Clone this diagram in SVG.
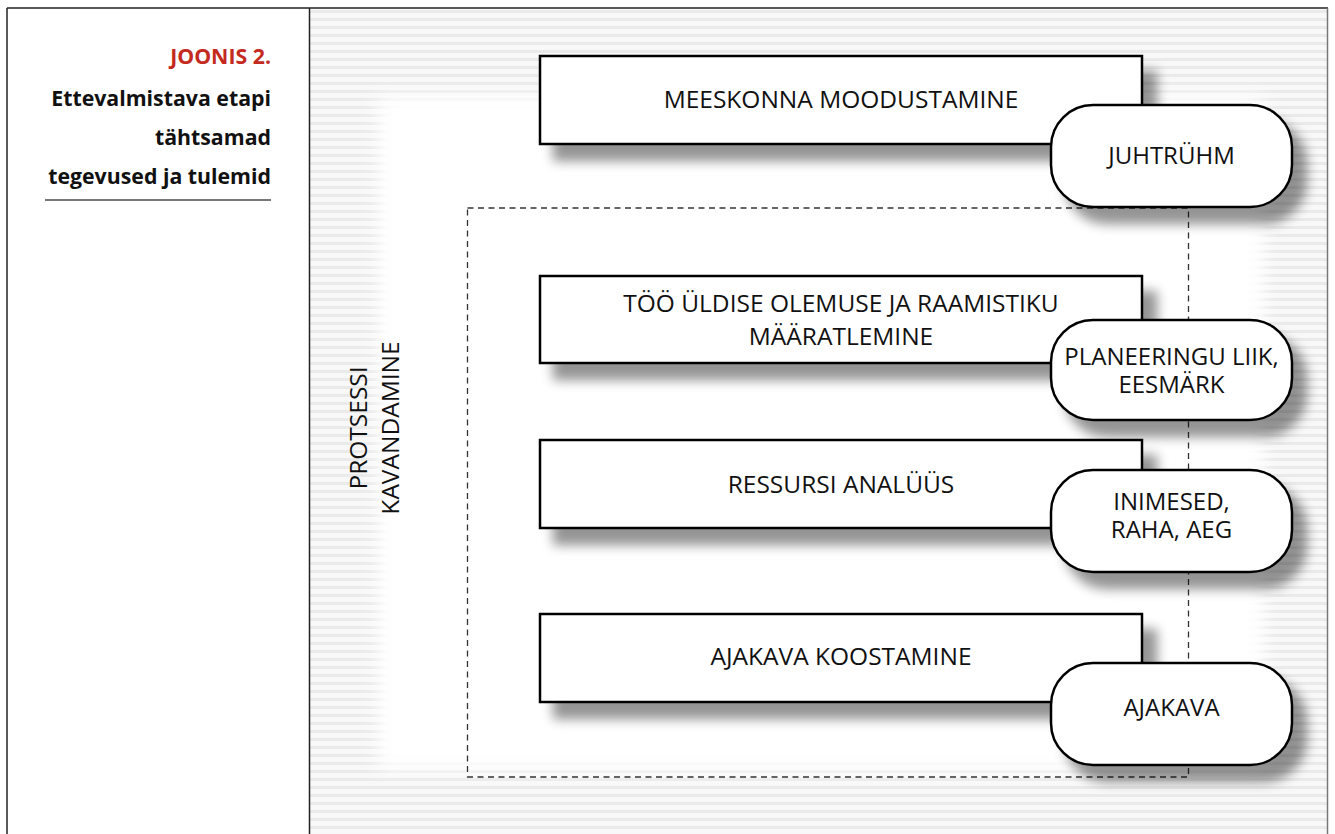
<svg xmlns="http://www.w3.org/2000/svg" width="1335" height="834" viewBox="0 0 1335 834">
<defs>
<style>
.box{fill:#fff;stroke:#000;stroke-width:2.5}
.pill{fill:#fff;stroke:#000;stroke-width:2.5}
.t{font-family:"Open Sans","Noto Sans","Liberation Sans",sans-serif;font-size:24.5px;fill:#111;text-anchor:middle}
.p{font-family:"Open Sans","Noto Sans","Liberation Sans",sans-serif;font-size:24px;fill:#111;text-anchor:middle}
.h{font-family:"Open Sans","Noto Sans","Liberation Sans",sans-serif;font-size:21.3px;font-weight:bold;fill:#111;text-anchor:end}
</style>
<pattern id="stripes" width="8" height="8" patternUnits="userSpaceOnUse">
<rect width="8" height="8" fill="#f8f8f8"/>
<rect y="2" width="8" height="3" fill="#eaeaea"/>
</pattern>
<filter id="soft" x="-5%" y="-5%" width="110%" height="110%">
<feGaussianBlur stdDeviation="9"/>
</filter>
<filter id="sh" x="-10%" y="-30%" width="130%" height="180%">
<feGaussianBlur in="SourceAlpha" stdDeviation="6"/>
<feOffset dx="14" dy="16"/>
<feComponentTransfer><feFuncA type="linear" slope="0.42"/></feComponentTransfer>
<feMerge><feMergeNode/><feMergeNode in="SourceGraphic"/></feMerge>
</filter>
</defs>

<rect width="1335" height="834" fill="#fff"/>
<g id="background">
<rect x="310" y="9" width="1017" height="825" fill="url(#stripes)"/>
<rect x="378" y="96" width="886" height="674" fill="#fff" filter="url(#soft)"/>
</g>

<g id="frame" fill="none">
<line x1="7" y1="8" x2="1328" y2="8" stroke="#222" stroke-width="1.5"/>
<line x1="7" y1="8" x2="7" y2="834" stroke="#222" stroke-width="1.5"/>
<line x1="309.5" y1="8" x2="309.5" y2="834" stroke="#222" stroke-width="1.5"/>
<line x1="1327.5" y1="8" x2="1327.5" y2="834" stroke="#777" stroke-width="1.5"/>
</g>

<g id="title">
<text class="h" x="271" y="64" style="fill:#c42a1e">JOONIS 2.</text>
<text class="h" x="271" y="106">Ettevalmistava etapi</text>
<text class="h" x="271" y="145">tähtsamad</text>
<text class="h" x="271" y="184">tegevused ja tulemid</text>
<line x1="45" y1="200" x2="271" y2="200" stroke="#777" stroke-width="2"/>
</g>

<g id="phase-label">
<text class="t" transform="translate(367,428) rotate(-90)">PROTSESSI</text>
<text class="t" transform="translate(399,428) rotate(-90)">KAVANDAMINE</text>
</g>

<g id="connectors">
<rect x="467.5" y="208" width="721" height="569" fill="none" stroke="#333" stroke-width="1.3" stroke-dasharray="6 4.5"/>
</g>

<g id="node-meeskond">
<rect class="box" x="540" y="56" width="602" height="88" filter="url(#sh)"/>
<text class="t" x="841" y="108">MEESKONNA MOODUSTAMINE</text>
</g>
<g id="node-juhtryhm">
<rect class="pill" x="1051" y="105" width="241" height="102" rx="42" ry="42" filter="url(#sh)"/>
<text class="p" x="1171.5" y="164">JUHTRÜHM</text>
</g>

<g id="node-raamistik">
<rect class="box" x="540" y="276" width="602" height="87" filter="url(#sh)"/>
<text class="t" x="841" y="312">TÖÖ ÜLDISE OLEMUSE JA RAAMISTIKU</text>
<text class="t" x="841" y="345">MÄÄRATLEMINE</text>
</g>
<g id="node-planeering">
<rect class="pill" x="1051" y="320" width="241" height="100" rx="42" ry="42" filter="url(#sh)"/>
<text class="p" x="1171.5" y="365">PLANEERINGU LIIK,</text>
<text class="p" x="1171.5" y="393">EESMÄRK</text>
</g>

<g id="node-ressurss">
<rect class="box" x="540" y="440" width="602" height="88" filter="url(#sh)"/>
<text class="t" x="841" y="493">RESSURSI ANALÜÜS</text>
</g>
<g id="node-inimesed">
<rect class="pill" x="1051" y="470" width="241" height="102" rx="42" ry="42" filter="url(#sh)"/>
<text class="p" x="1171.5" y="510">INIMESED,</text>
<text class="p" x="1171.5" y="538">RAHA, AEG</text>
</g>

<g id="node-ajakava-koostamine">
<rect class="box" x="540" y="614" width="602" height="88" filter="url(#sh)"/>
<text class="t" x="841" y="665">AJAKAVA KOOSTAMINE</text>
</g>
<g id="node-ajakava">
<rect class="pill" x="1051" y="663" width="241" height="102" rx="42" ry="42" filter="url(#sh)"/>
<text class="p" x="1171.5" y="716">AJAKAVA</text>
</g>
</svg>
